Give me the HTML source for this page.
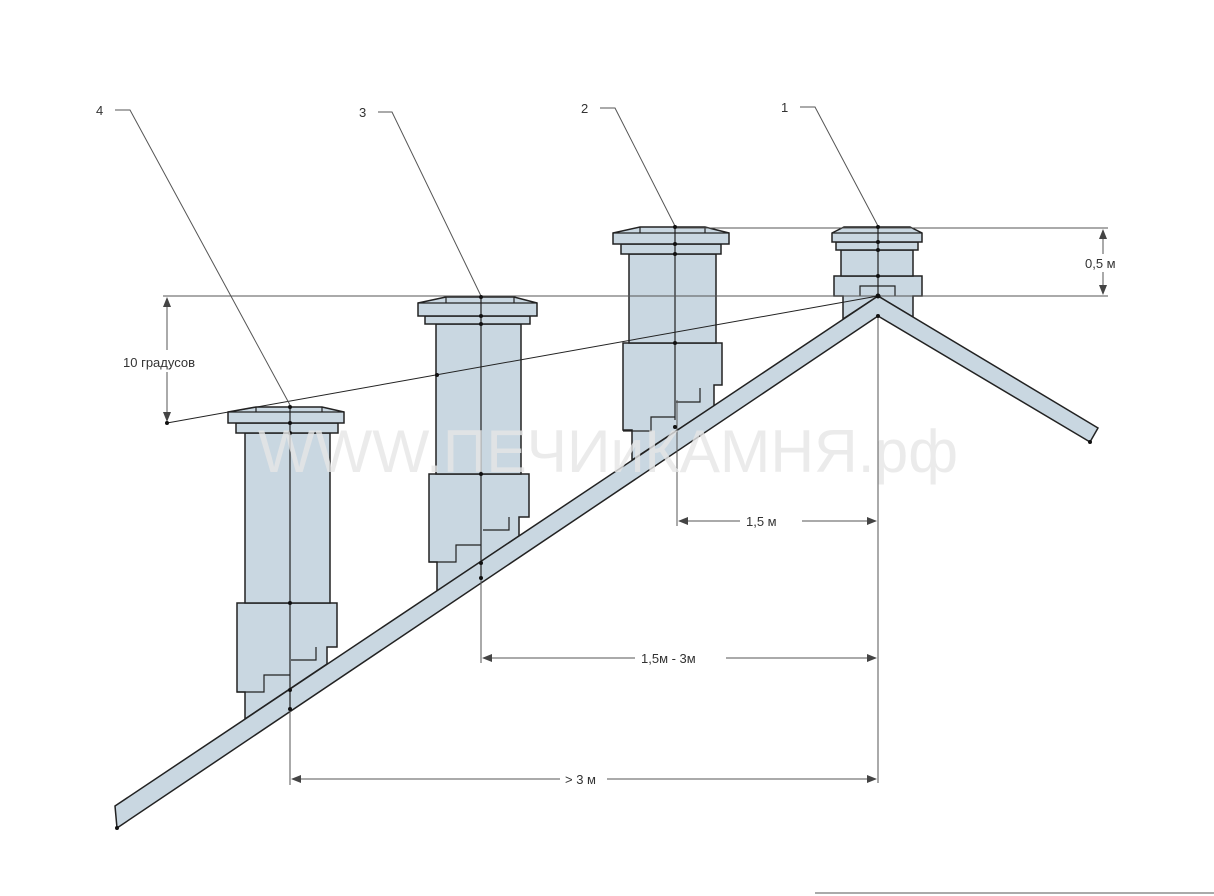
<!DOCTYPE html>
<html><head><meta charset="utf-8"><style>
html,body{margin:0;padding:0;background:#fff;}
svg{display:block;font-family:"Liberation Sans",sans-serif;}
</style></head><body>
<svg width="1214" height="896" viewBox="0 0 1214 896" xmlns="http://www.w3.org/2000/svg">
<defs>
<marker id="a" markerWidth="10" markerHeight="10" refX="9" refY="4" orient="auto" markerUnits="userSpaceOnUse"><path d="M0,0 L10,4 L0,8 z" fill="#444"/></marker>
</defs>
<g fill="#c9d7e1" stroke="#222" stroke-width="1.5" stroke-linejoin="miter">
<polygon points="237,603 337,603 337,647 327,647 327,664 245,719 245,692 237,692"/>
<rect x="245" y="433" width="85" height="170"/>
<rect x="236" y="423" width="102" height="10"/>
<polygon points="228,412 256,407 322,407 344,412 344,423 228,423"/>
<polygon points="429,474 529,474 529,517 519,517 519,536 437,591 437,562 429,562"/>
<rect x="436" y="324" width="85" height="150"/>
<rect x="425" y="316" width="105" height="8"/>
<polygon points="418,303 446,297 514,297 537,303 537,316 418,316"/>
<polygon points="623,343 722,343 722,385 714,385 714,406 632,460 632,430 623,430"/>
<rect x="629" y="254" width="87" height="89"/>
<rect x="621" y="244" width="100" height="10"/>
<polygon points="613,233 640,227 705,227 729,233 729,244 613,244"/>
<polygon points="834,276 922,276 922,296 913,296 913,317 878,296 843,319 843,296 834,296"/>
<rect x="841" y="250" width="72" height="26"/>
<rect x="836" y="242" width="82" height="8"/>
<polygon points="832,233 844,227 910,227 922,233 922,242 832,242"/>
<polygon points="878,296 1098,428 1090,442 878,316 117,828 115,806"/>
</g>
<g stroke="#222" stroke-width="1.2" fill="none">
<line x1="290" y1="407" x2="290" y2="709"/>
<line x1="481" y1="297" x2="481" y2="580"/>
<line x1="675" y1="227" x2="675" y2="420"/>
<line x1="878" y1="227" x2="878" y2="296"/>
<polyline points="316,647 316,660 291,660"/><polyline points="290,675 264,675 264,692 237,692"/>
<polyline points="509,517 509,530 483,530"/><polyline points="481,545 456,545 456,562 429,562"/>
<polyline points="700,388 700,402 676,402"/><polyline points="675,417 651,417 651,431 623,431"/>
<polyline points="860,296 860,286 895,286 895,296"/>
<line x1="256" y1="407" x2="256" y2="412"/><line x1="322" y1="407" x2="322" y2="412"/>
<line x1="446" y1="297" x2="446" y2="303"/><line x1="514" y1="297" x2="514" y2="303"/>
<line x1="640" y1="227" x2="640" y2="233"/><line x1="705" y1="227" x2="705" y2="233"/>
<line x1="228" y1="412" x2="344" y2="412"/><line x1="418" y1="303" x2="537" y2="303"/>
<line x1="613" y1="233" x2="729" y2="233"/><line x1="832" y1="233" x2="922" y2="233"/>
</g>
<g stroke="#555" stroke-width="1" fill="none">
<line x1="675" y1="228" x2="1108" y2="228"/>
<line x1="163" y1="296" x2="1108" y2="296"/>
<line x1="167" y1="423" x2="878" y2="296" stroke="#222"/>
<line x1="878" y1="316" x2="878" y2="783"/>
<line x1="677" y1="400" x2="677" y2="526"/>
<line x1="481" y1="580" x2="481" y2="663"/>
<line x1="290" y1="709" x2="290" y2="785"/>
<line x1="1103" y1="254" x2="1103" y2="230" marker-end="url(#a)"/>
<line x1="1103" y1="272" x2="1103" y2="294" marker-end="url(#a)"/>
<line x1="167" y1="350" x2="167" y2="298" marker-end="url(#a)"/>
<line x1="167" y1="372" x2="167" y2="421" marker-end="url(#a)"/>
<line x1="740" y1="521" x2="679" y2="521" marker-end="url(#a)"/>
<line x1="802" y1="521" x2="876" y2="521" marker-end="url(#a)"/>
<line x1="635" y1="658" x2="483" y2="658" marker-end="url(#a)"/>
<line x1="726" y1="658" x2="876" y2="658" marker-end="url(#a)"/>
<line x1="560" y1="779" x2="292" y2="779" marker-end="url(#a)"/>
<line x1="607" y1="779" x2="876" y2="779" marker-end="url(#a)"/>
<polyline points="115,110 130,110 290,405"/>
<polyline points="378,112 392,112 481,296"/>
<polyline points="600,108 615,108 675,226"/>
<polyline points="800,107 815,107 878,226"/>
<line x1="815" y1="893" x2="1214" y2="893"/>
</g>
<g fill="#111">
<circle cx="290" cy="407" r="2"/><circle cx="290" cy="423" r="2"/><circle cx="290" cy="433" r="2"/><circle cx="290" cy="603" r="2"/><circle cx="290" cy="690" r="2"/><circle cx="290" cy="709" r="2"/>
<circle cx="481" cy="297" r="2"/><circle cx="481" cy="316" r="2"/><circle cx="481" cy="324" r="2"/><circle cx="481" cy="474" r="2"/><circle cx="481" cy="563" r="2"/><circle cx="481" cy="578" r="2"/>
<circle cx="675" cy="227" r="2"/><circle cx="675" cy="244" r="2"/><circle cx="675" cy="254" r="2"/><circle cx="675" cy="343" r="2"/><circle cx="675" cy="427" r="2"/>
<circle cx="878" cy="227" r="2"/><circle cx="878" cy="242" r="2"/><circle cx="878" cy="250" r="2"/><circle cx="878" cy="276" r="2"/><circle cx="878" cy="296" r="2.5"/><circle cx="878" cy="316" r="2"/>
<circle cx="437" cy="375" r="2"/><circle cx="167" cy="423" r="2"/><circle cx="117" cy="828" r="2"/><circle cx="1090" cy="442" r="2"/>
</g>
<text x="258" y="472" font-size="60" textLength="700" lengthAdjust="spacingAndGlyphs" fill="#e6e6e6" fill-opacity="0.8">WWW.ПЕЧИиКАМНЯ.рф</text>
<g font-size="13" fill="#333">
<text x="96" y="115">4</text><text x="359" y="117">3</text><text x="581" y="113">2</text><text x="781" y="112">1</text>
<text x="1085" y="268">0,5 м</text>
<text x="123" y="367">10 градусов</text>
<text x="746" y="526">1,5 м</text>
<text x="641" y="663">1,5м - 3м</text>
<text x="565" y="784">&gt; 3 м</text>
</g>
</svg>
</body></html>
